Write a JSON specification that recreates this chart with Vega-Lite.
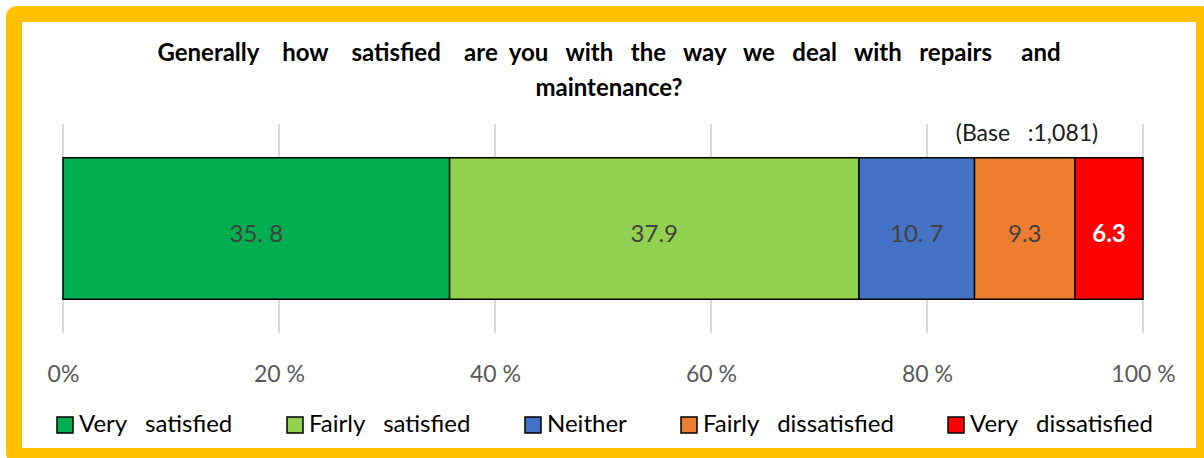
{
  "$schema": "https://vega.github.io/schema/vega-lite/v6.json",
  "autosize": "none",
  "width": 1190,
  "height": 442,
  "padding": {"left": 14, "top": 14, "right": 0, "bottom": 2},
  "background": "white",
  "config": {
    "font": "Lato",
    "view": {"stroke": "#FFC000", "strokeWidth": 16, "cornerRadius": 3, "fill": "white"},
    "title": {"font": "Lato", "fontSize": 24, "fontWeight": "bold", "color": "black", "anchor": "middle", "baseline": "top", "offset": -87, "lineHeight": 35, "frame": "group"}
  },
  "title": {
    "text": ["Generally\u00a0\u00a0\u00a0\u00a0how\u00a0\u00a0\u00a0\u00a0satisfied\u00a0\u00a0\u00a0\u00a0are\u00a0\u00a0you\u00a0\u00a0\u00a0with\u00a0\u00a0\u00a0the\u00a0\u00a0\u00a0way\u00a0\u00a0\u00a0we\u00a0\u00a0\u00a0deal\u00a0\u00a0\u00a0with\u00a0\u00a0\u00a0repairs\u00a0\u00a0\u00a0\u00a0\u00a0and", "maintenance?"]
  },
  "datasets": {
    "bars": [
      {"idx": 1, "cat": "Very satisfied", "pct": 35.8, "label": "35. 8"},
      {"idx": 2, "cat": "Fairly satisfied", "pct": 37.9, "label": "37.9"},
      {"idx": 3, "cat": "Neither", "pct": 10.7, "label": "10. 7"},
      {"idx": 4, "cat": "Fairly dissatisfied", "pct": 9.3, "label": "9.3"},
      {"idx": 5, "cat": "Very dissatisfied", "pct": 6.3, "label": "6.3"}
    ],
    "grid": [{"v": 0}, {"v": 20}, {"v": 40}, {"v": 60}, {"v": 80}, {"v": 100}],
    "note": [{"text": "(Base\u00a0\u00a0\u00a0:1,081)"}]
  },
  "layer": [
    {
      "data": {"name": "grid"},
      "mark": {"type": "tick", "size": 209, "thickness": 2, "color": "#D9D9D9", "opacity": 1},
      "encoding": {
        "x": {"field": "v", "type": "quantitative", "scale": {"domain": [-4.537, 105.648], "nice": false, "zero": false},
              "axis": {"values": [0, 20, 40, 60, 80, 100], "title": null, "domain": false, "ticks": false, "grid": false, "labelExpr": "datum.value === 0 ? '0%' : datum.value + ' %'", "labelFont": "Lato", "labelFontSize": 23, "labelColor": "#595959", "labelBaseline": "middle", "labelPadding": 0, "offset": -82, "labelFlush": false, "labelOverlap": false}},
        "y": {"datum": "all", "type": "nominal", "scale": {"paddingInner": 0, "paddingOuter": 1.0674, "align": 0.478}, "axis": null}
      }
    },
    {
      "data": {"name": "bars"},
      "layer": [
        {
          "mark": {"type": "bar", "stroke": "black", "strokeWidth": 1.5, "height": {"band": 0.96}},
          "encoding": {
            "x": {"field": "pct", "type": "quantitative", "stack": "zero",
                  "axis": {"values": [0, 20, 40, 60, 80, 100], "title": null, "domain": false, "ticks": false, "grid": false, "labelExpr": "datum.value === 0 ? '0%' : datum.value + ' %'", "labelFont": "Lato", "labelFontSize": 23, "labelColor": "#595959", "labelBaseline": "middle", "labelPadding": 0, "offset": -82, "labelFlush": false, "labelOverlap": false}},
            "y": {"datum": "all", "type": "nominal"},
            "order": {"field": "idx", "type": "quantitative"},
            "color": {"field": "cat", "type": "nominal",
                      "scale": {"domain": ["Very satisfied", "Fairly satisfied", "Neither", "Fairly dissatisfied", "Very dissatisfied"], "range": ["#00B050", "#92D050", "#4472C4", "#ED7D31", "#FF0000"]},
                      "legend": {"orient": "none", "legendX": 39, "legendY": 399, "direction": "horizontal", "title": null, "symbolType": "square", "symbolSize": 256, "symbolStrokeColor": "black", "symbolStrokeWidth": 1.5, "labelFont": "Lato", "labelFontSize": 24, "labelColor": "black", "labelOffset": 2, "columnPadding": 50, "labelLimit": 400, "labelExpr": "replace(datum.label, ' ', '\u00a0\u00a0\u00a0')"}}
          }
        },
        {
          "mark": {"type": "text", "font": "Lato", "fontSize": 24, "fontWeight": {"expr": "datum.idx === 5 ? 'bold' : 'normal'"}, "baseline": "middle", "dy": 6},
          "encoding": {
            "x": {"field": "pct", "type": "quantitative", "stack": "zero", "bandPosition": 0.5},
            "y": {"datum": "all", "type": "nominal"},
            "order": {"field": "idx", "type": "quantitative"},
            "color": {"condition": {"test": "datum.idx === 5", "value": "white"}, "value": "#404040"},
            "text": {"field": "label"}
          }
        }
      ]
    },
    {
      "data": {"name": "note"},
      "mark": {"type": "text", "font": "Lato", "fontSize": 23, "color": "#1a1a1a", "baseline": "middle"},
      "encoding": {
        "x": {"datum": 89.26, "type": "quantitative"},
        "y": {"datum": "all", "type": "nominal", "bandPosition": -0.142},
        "text": {"field": "text"}
      }
    }
  ]
}
